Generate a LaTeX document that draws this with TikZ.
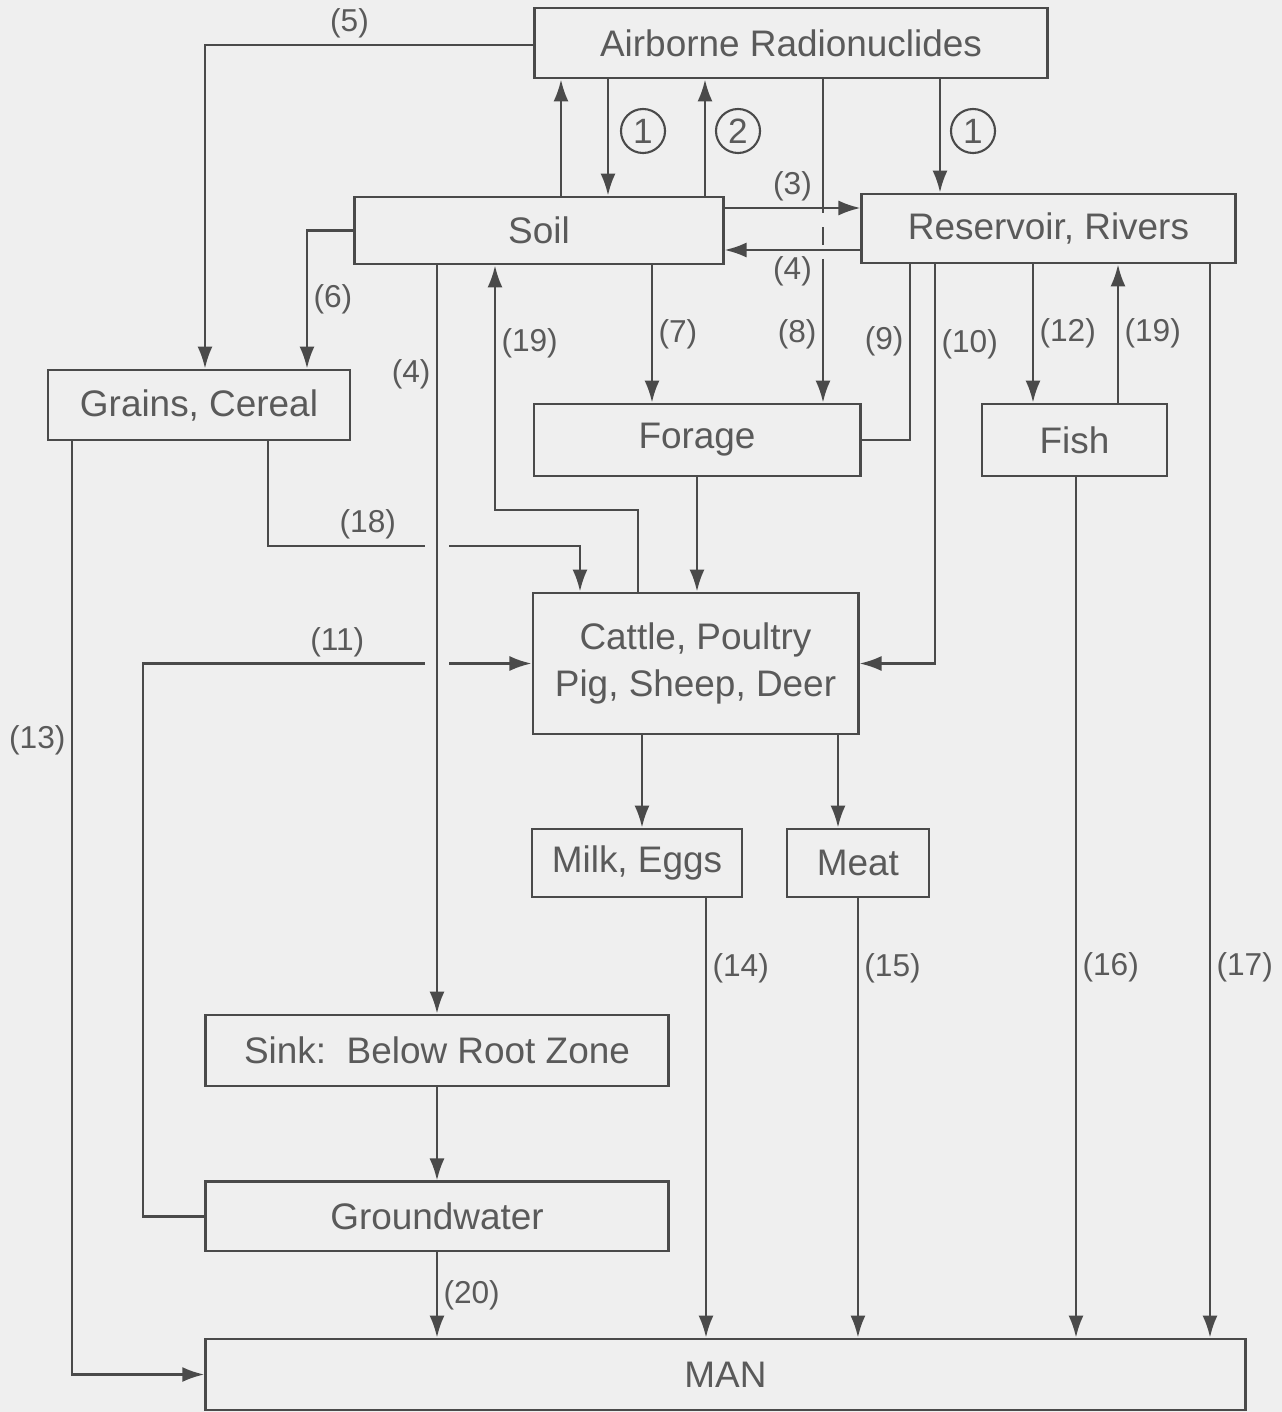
\documentclass[tikz,border=0pt]{standalone}
\usepackage{fontspec}
\setmainfont{Liberation Sans}
\usepackage{tikz}
\usetikzlibrary{arrows.meta,positioning,calc}
\definecolor{paper}{HTML}{EFEFEF}
\definecolor{ink}{HTML}{4A4A4A}
\definecolor{txt}{HTML}{5A5A5A}

\begin{document}
\begin{tikzpicture}[
    x=0.01cm, y=-0.01cm,
    box/.style={rectangle, draw=ink, line width=0.8pt, inner sep=0pt, align=center, text=txt, font=\fontsize{10.5}{13.6}\selectfont},
    arrow/.style={-{Latex[length=2.2mm,width=1.5mm]}, draw=ink, line width=0.7pt},
    wire/.style={draw=ink, line width=0.7pt},
    num/.style={text=txt, font=\fontsize{9}{10}\selectfont, inner sep=1.5pt},
    ring/.style={circle, draw=ink, line width=0.6pt, minimum size=0.44cm, inner sep=0pt, text=txt, font=\fontsize{10}{12}\selectfont}
]
    \fill[paper] (0,0) rectangle (1282,1412);

    % compartments
    \node[box, minimum width=5.12cm, minimum height=0.70cm] (air) at (791,43) {Airborne Radionuclides};
    \node[box, minimum width=3.68cm, minimum height=0.67cm] (soil) at (539,230.5) {Soil};
    \node[box, minimum width=3.73cm, minimum height=0.69cm] (res) at (1048.5,228.5) {Reservoir, Rivers};
    \node[box, minimum width=3.02cm, minimum height=0.70cm] (grain) at (199,405) {Grains, Cereal};
    \node[box, minimum width=3.26cm, minimum height=0.72cm] (forage) at (697,440) {Forage};
    \node[box, minimum width=1.85cm, minimum height=0.72cm] (fish) at (1074.5,440) {Fish};
    \node[box, minimum width=3.25cm, minimum height=1.41cm] (cattle) at (695.5,663.5) {Cattle, Poultry\\Pig, Sheep, Deer};
    \node[box, minimum width=2.10cm, minimum height=0.68cm] (milk) at (637,863) {Milk, Eggs};
    \node[box, minimum width=1.42cm, minimum height=0.68cm, right=0.42cm of milk] (meat) {Meat};
    \node[box, minimum width=4.62cm, minimum height=0.71cm] (sink) at (437,1050.5) {Sink:\ \ Below Root Zone};
    \node[box, minimum width=4.62cm, minimum height=0.69cm, below=0.93cm of sink] (ground) {Groundwater};
    \node[box, minimum width=10.39cm, minimum height=0.71cm] (man) at (725.5,1374.5) {MAN};

    % circled pathway numbers
    \node[ring] (c1a) at (643,131) {1};
    \node[ring] (c2) at (738,131) {2};
    \node[ring] (c1b) at (973,131) {1};

    % air <-> soil, air -> reservoir
    \draw[arrow] (561,0 |- soil.north) -- (561,0 |- air.south);
    \draw[arrow] (608,0 |- air.south) -- (608,0 |- soil.north);
    \draw[arrow] (705,0 |- soil.north) -- (705,0 |- air.south);
    \draw[arrow] (940,0 |- air.south) -- (940,0 |- res.north);

    % (8) air -> forage, broken where it passes the soil/reservoir links
    \draw[wire] (823,0 |- air.south) -- (823,0 |- soil.north);
    \draw[wire, dash pattern=on 5pt off 4pt] (823,0 |- soil.north) -- (823,0 |- soil.south);
    \draw[arrow] (823,0 |- soil.south) -- node[num, left]{(8)} (823,0 |- forage.north);

    % soil <-> reservoir
    \draw[arrow] (soil.east |- 0,208) -- node[num, above]{(3)} (res.west |- 0,208);
    \draw[arrow] (res.west |- 0,250) -- node[num, below]{(4)} (soil.east |- 0,250);

    % to grains
    \draw[arrow] (air.west |- 0,45) -| node[num, above, pos=0.28]{(5)} (205,0 |- grain.north);
    \draw[arrow] (soil.west) -| node[num, right, pos=0.75]{(6)} (307,0 |- grain.north);

    % soil -> forage, cattle -> soil
    \draw[arrow] (652,0 |- soil.south) -- node[num, right]{(7)} (652,0 |- forage.north);
    \draw[arrow] (638,0 |- cattle.north) |- (495,510) -- node[num, right, pos=0.68]{(19)} (495,0 |- soil.south);
    \draw[arrow] (forage.south) -- (forage.south |- cattle.north);

    % reservoir outflows
    \draw[wire] (910,0 |- res.south) |- node[num, left, pos=0.22]{(9)} (forage.east);
    \draw[arrow] (935,0 |- res.south) |- node[num, right, pos=0.1]{(10)} (cattle.east);
    \draw[arrow] (1033,0 |- res.south) -- node[num, right]{(12)} (1033,0 |- fish.north);
    \draw[arrow] (1118,0 |- fish.north) -- node[num, right]{(19)} (1118,0 |- res.south);
    \draw[arrow] (1210,0 |- res.south) -- node[num, right, pos=0.655]{(17)} (1210,0 |- man.north);

    % feed to animals
    \draw[arrow] (268,0 |- grain.south) |- node[num, above, pos=0.66]{(18)} (580,546) -- (580,0 |- cattle.north);
    \draw[arrow] (ground.west) -| (143,663.5) -- node[num, above]{(11)} (cattle.west);

    % leaching (4), with a gap cut in the lines it crosses
    \draw[paper, line width=7pt, shorten <=3pt, shorten >=3pt] (437,0 |- soil.south) -- (sink.north);
    \draw[arrow] (437,0 |- soil.south) -- node[num, left, pos=0.145]{(4)} (sink.north);
    \draw[arrow] (sink.south) -- (ground.north);

    % animal products
    \draw[arrow] (642,0 |- cattle.south) -- (642,0 |- milk.north);
    \draw[arrow] (838,0 |- cattle.south) -- (838,0 |- meat.north);

    % to man
    \draw[arrow] (72,0 |- grain.south) |- node[num, left, pos=0.16]{(13)} (man.west);
    \draw[arrow] (706,0 |- milk.south) -- node[num, right, pos=0.16]{(14)} (706,0 |- man.north);
    \draw[arrow] (meat.south) -- node[num, right, pos=0.16]{(15)} (meat.south |- man.north);
    \draw[arrow] (1076,0 |- fish.south) -- node[num, right, pos=0.57]{(16)} (1076,0 |- man.north);
    \draw[arrow] (ground.south) -- node[num, right]{(20)} (ground.south |- man.north);
\end{tikzpicture}
\end{document}
